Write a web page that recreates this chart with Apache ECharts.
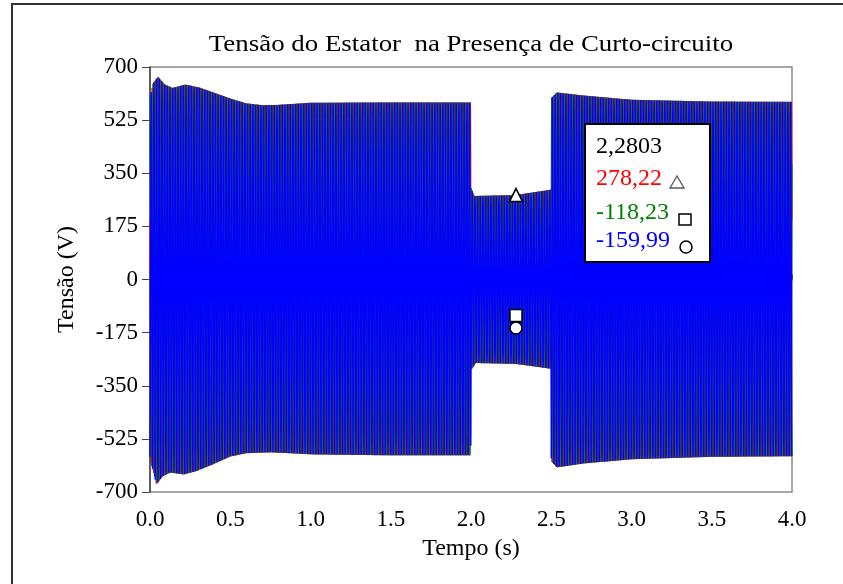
<!DOCTYPE html>
<html>
<head>
<meta charset="utf-8">
<script src="https://cdn.jsdelivr.net/npm/echarts@6/dist/echarts.min.js"></script>
<style>
  html, body { margin: 0; padding: 0; background: #fff; }
  #chart { width: 843px; height: 584px; }
</style>
</head>
<body>
<div id="chart"></div>
<script>
// Peak envelope of the stator phase voltages (V) against time (s)
const upperT = [0.000, 0.020, 0.050, 0.090, 0.140, 0.220, 0.310, 0.400, 0.500, 0.600, 0.700, 0.800, 1.000, 1.500, 1.999,
                2.000, 2.020, 2.280, 2.499, 2.500, 2.535, 2.700, 3.000, 3.500, 4.000];
const upperV = [600, 650, 670, 645, 633, 644, 634, 617, 598, 582, 576, 577, 584, 585, 585,
                305, 276, 279, 297, 600, 618, 608, 594, 588, 587];
const lowerT = [0.000, 0.040, 0.080, 0.125, 0.210, 0.290, 0.390, 0.500, 0.600, 0.750, 1.020, 1.500, 1.999,
                2.000, 2.030, 2.280, 2.499, 2.500, 2.535, 2.700, 3.000, 3.500, 4.000];
const lowerV = [-594, -677, -650, -638, -644, -633, -611, -585, -574, -571, -578, -581, -581,
                -300, -276, -279, -295, -600, -621, -608, -594, -586, -584];

// Cursor readout at the probe instant
const probeTime = 2.2803;
const probeValues = [278.22, -118.23, -159.99];
const phaseNames = ['Va', 'Vb', 'Vc'];
const phaseColors = ['#ff0000', '#008000', '#0000ff'];
const probeSymbols = ['triangle', 'rect', 'circle'];

// Axis ticks
const xTicks = [0.0, 0.5, 1.0, 1.5, 2.0, 2.5, 3.0, 3.5, 4.0];
const yTicks = [-700, -525, -350, -175, 0, 175, 350, 525, 700];

const freq = 60;          // supply frequency (Hz)
const tEnd = 4.0;
const perCycle = 24;

function envelope(ts, vs, t) {
  if (t <= ts[0]) return vs[0];
  for (let i = 1; i < ts.length; i++) {
    if (t <= ts[i]) {
      const f = (t - ts[i - 1]) / (ts[i] - ts[i - 1]);
      return vs[i - 1] + f * (vs[i] - vs[i - 1]);
    }
  }
  return vs[vs.length - 1];
}

// Phase reference so that phase a sits near its crest at the probe instant
const w = 2 * Math.PI * freq;
const theta0 = 0.0864 - w * probeTime;

function phaseSeries(k) {
  const shift = -k * 2 * Math.PI / 3;
  const n = Math.round(tEnd * freq * perCycle);
  const out = [];
  for (let i = 0; i <= n; i++) {
    const t = i * tEnd / n;
    const c = Math.cos(w * t + theta0 + shift);
    const amp = c >= 0 ? envelope(upperT, upperV, t) : -envelope(lowerT, lowerV, t);
    out.push([t, amp * c]);
  }
  return out;
}

const chart = echarts.init(document.getElementById('chart'), null, { renderer: 'canvas' });
const serif = '"Liberation Serif", "Times New Roman", serif';

const lineSeries = [0, 1, 2].map(k => ({
  name: phaseNames[k],
  type: 'line',
  data: phaseSeries(k),
  showSymbol: false,
  symbol: 'none',
  sampling: null,
  lineStyle: { color: phaseColors[k], width: k === 2 ? 1.4 : 1 },
  itemStyle: { color: phaseColors[k] },
  z: 2 + k,
  silent: true,
  animation: false
}));

const probeSeries = {
  type: 'scatter',
  data: probeValues.map((v, k) => ({
    value: [probeTime, v],
    symbol: probeSymbols[k],
    symbolSize: k === 0 ? 13 : 12
  })),
  itemStyle: { color: '#fff', borderColor: '#000', borderWidth: 1.5, opacity: 1 },
  z: 10,
  silent: true,
  animation: false
};

const fmt = v => v.toFixed(v === probeTime ? 4 : 2).replace('.', ',');

// Readout box drawn above the traces
const boxX = 585, boxY = 124, boxW = 125, boxH = 138;
const rowY = [147, 179, 213, 241];
const zTop = 100;
const readout = [
  { type: 'rect', z: zTop, shape: { x: boxX, y: boxY, width: boxW, height: boxH },
    style: { fill: '#fff', stroke: '#000', lineWidth: 2 } },
  { type: 'text', z: zTop + 1, x: 596, y: rowY[0],
    style: { text: fmt(probeTime), font: '24px ' + serif, fill: '#000', verticalAlign: 'middle' } }
];
probeValues.forEach((v, k) => {
  readout.push({ type: 'text', z: zTop + 1, x: 596, y: rowY[k + 1],
    style: { text: fmt(v), font: '24px ' + serif, fill: phaseColors[k], verticalAlign: 'middle' } });
});
readout.push(
  { type: 'polygon', z: zTop + 1, shape: { points: [[677, 176], [670, 188], [684, 188]] },
    style: { fill: '#fff', stroke: '#555', lineWidth: 1.3 } },
  { type: 'rect', z: zTop + 1, shape: { x: 679, y: 214, width: 12, height: 11 },
    style: { fill: '#fff', stroke: '#000', lineWidth: 1.5 } },
  { type: 'circle', z: zTop + 1, shape: { cx: 686, cy: 247, r: 6 },
    style: { fill: '#fff', stroke: '#000', lineWidth: 1.5 } }
);

chart.setOption({
  animation: false,
  backgroundColor: '#fff',
  grid: {
    left: 150, right: 51, top: 67, bottom: 92,
    show: true, borderColor: '#8a8a8a', borderWidth: 1.5, backgroundColor: 'transparent'
  },
  xAxis: {
    type: 'value',
    min: xTicks[0], max: xTicks[xTicks.length - 1], interval: 0.5,
    name: 'Tempo (s)', nameLocation: 'middle', nameGap: 45,
    nameTextStyle: { fontFamily: serif, fontSize: 24, color: '#000' },
    axisLine: { lineStyle: { color: '#444', width: 1.5 } },
    axisTick: { inside: true, length: 5, lineStyle: { color: '#444' } },
    axisLabel: { fontFamily: serif, fontSize: 23, color: '#000', margin: 16,
      formatter: v => v.toFixed(1) },
    splitLine: { show: false }
  },
  yAxis: {
    type: 'value',
    min: yTicks[0], max: yTicks[yTicks.length - 1], interval: 175,
    name: 'Tensão (V)', nameLocation: 'middle', nameGap: 71,
    nameTextStyle: { fontFamily: serif, fontSize: 24, color: '#000' },
    axisLine: { lineStyle: { color: '#444', width: 1.5 } },
    axisTick: { inside: false, length: 8, lineStyle: { color: '#444' } },
    axisLabel: { fontFamily: serif, fontSize: 23, color: '#000', margin: 12 },
    splitLine: { show: false }
  },
  graphic: {
    elements: [
      { type: 'rect', z: zTop, shape: { x: 12, y: 4, width: 900, height: 700 },
        style: { fill: 'none', stroke: '#333', lineWidth: 2 }, silent: true },
      { type: 'text', z: zTop, x: 471, y: 45, scaleX: 1.12, originX: 0, originY: 0,
        style: { text: 'Tensão do Estator  na Presença de Curto-circuito', font: '24px ' + serif,
          fill: '#000', align: 'center', verticalAlign: 'middle' } },
      ...readout
    ]
  },
  series: [...lineSeries, probeSeries]
});
</script>
</body>
</html>
